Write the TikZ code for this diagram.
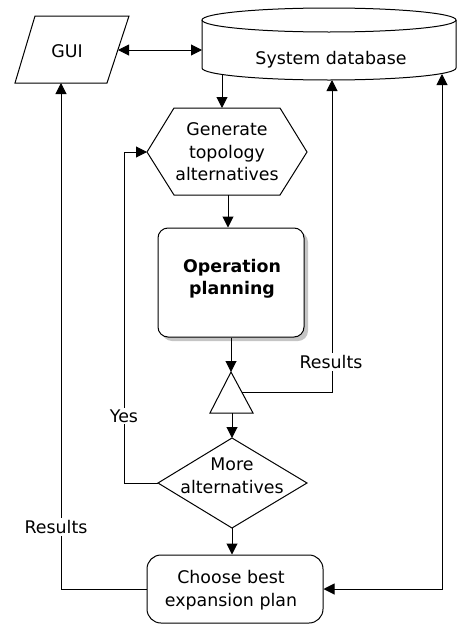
\documentclass[tikz,border=0pt]{standalone}
\usepackage{fontspec}
\setmainfont{DejaVu Sans}
\usetikzlibrary{arrows.meta,shadows,calc}
\begin{document}
\begin{tikzpicture}[x=1pt,y=-1pt, line width=1pt,
  arr/.style={-{Triangle[length=11pt,width=11pt]}},
  darr/.style={{Triangle[length=11pt,width=11pt]}-{Triangle[length=11pt,width=11pt]}},
  txt/.style={align=center, font=\fontsize{17.4}{22.5}\selectfont, inner sep=0pt},
  lbl/.style={txt, fill=white, inner sep=2pt},
  boxr/.style={draw, fill=white, txt}]
\useasboundingbox (0,0) rectangle (458,624);

% GUI parallelogram
\draw (35,16) -- (129,16) -- (107,83) -- (15,83) -- cycle;
\node[txt] (gui) at (67,51) {GUI};
\coordinate (guiR) at (118,50);
\coordinate (guiB) at (61,83);

% database cylinder
\draw (202,20) -- (202,68) arc[start angle=180, end angle=0, x radius=127, y radius=12] -- (456,20);
\draw (329,20) ellipse [x radius=127, y radius=12];
\node[txt] (db) at (331,60) {System database};
\coordinate (dbL) at (202,50);
\coordinate (dbB1) at (222,74.5);
\coordinate (dbB2) at (332,80);
\coordinate (dbB3) at (442,74);

% hexagon
\draw (174,108) -- (280,108) -- (307,152) -- (280,195) -- (174,195) -- (147,152) -- cycle;
\node[txt] (gen) at (227,152) {Generate\\topology\\alternatives};
\coordinate (hexT) at (222,108);
\coordinate (hexB) at (228,195);
\coordinate (hexL) at (147,152);

% operation planning
\node[boxr, rounded corners=10pt, minimum width=146pt, minimum height=109pt,
      drop shadow={shadow xshift=4pt, shadow yshift=-4pt, fill=black!45}] (op) at (231,282.5) {};
\node[txt, font=\fontsize{17.4}{22.5}\selectfont\bfseries] (optxt) at (232,279) {Operation\\planning};

% triangle
\draw (231,372) -- (253,413) -- (210,413) -- cycle;
\coordinate (triT) at (231,372);
\coordinate (triB) at (232,413);
\coordinate (triR) at (242,392);

% diamond
\draw (232,438) -- (307,483) -- (232,528) -- (158,483) -- cycle;
\node[txt] (more) at (232,476) {More\\alternatives};
\coordinate (diaT) at (232,438);
\coordinate (diaB) at (232,528);
\coordinate (diaL) at (158,483);
\coordinate (yesc) at (124,0);

% choose best
\node[boxr, rounded corners=14pt, minimum width=176pt, minimum height=68pt] (choose) at (235,589) {};
\node[txt] (chtxt) at (231,590) {Choose best\\expansion plan};

% connectors
\draw[darr] (guiR) -- (dbL);
\draw[arr] (dbB1) -- (hexT);
\draw[arr] (hexB) -- (hexB |- op.north);
\draw[arr] (op.south) -- (triT);
\draw[arr] (triR) -| (dbB2);
\draw[arr] (triB) -- (diaT);
\draw[arr] (diaL) -| (yesc |- hexL) -- (hexL);
\draw[arr] (diaB) -- (diaB |- choose.north);
\draw[arr] (choose.west) -| (guiB);
\draw[darr] (choose.east) -| (dbB3);

% labels
\node[lbl] (res1) at (331,362) {Results};
\node[lbl] (yes) at (124,416) {Yes};
\node[lbl] (res2) at (56,527) {Results};
\end{tikzpicture}
\end{document}
